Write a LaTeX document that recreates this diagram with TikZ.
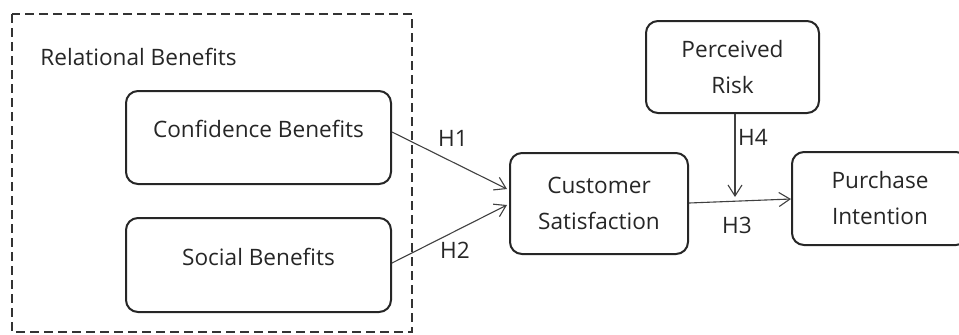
\documentclass[tikz,border=0pt]{standalone}
\usepackage{fontspec}
\setmainfont{Open Sans}
\usetikzlibrary{arrows.meta,calc}
\begin{document}
\begin{tikzpicture}[x=0.5pt,y=-0.5pt,
  font=\fontsize{11.3}{18}\selectfont,
  box/.style={draw=black!85, line width=1pt, rounded corners=6pt, align=center, text=black!85},
  onebox/.style={box, text height=8pt, text depth=8pt},
  conn/.style={draw=black!75, line width=0.55pt, -{Straight Barb[length=5.5pt,width=7pt]}},
  hlab/.style={text=black!85, inner sep=0pt}]
\useasboundingbox (0,0) rectangle (959,334);
\draw[black!80, line width=1pt, dash pattern=on 4.5pt off 2.5pt] (12,14) rectangle (412,332);
\node[anchor=base west, text=black!85, inner sep=0pt] (rb) at (40,65) {Relational Benefits};
\node[onebox, minimum width=132.5pt, minimum height=46.5pt] (cb) at (258.5,137.5) {Confidence Benefits};
\node[onebox, minimum width=132.5pt, minimum height=47pt] (sb) at (258.5,265) {Social Benefits};
\node[box, minimum width=89pt, minimum height=50.5pt] (cs) at (599,203.5) {Customer\\Satisfaction};
\node[box, minimum width=86.5pt, minimum height=46pt] (pr) at (732.5,67) {Perceived\\Risk};
\node[box, minimum width=88pt, minimum height=46.5pt] (pi) at (880,198.5) {Purchase\\Intention};
\coordinate (h4end) at (735,197);
\draw[conn] ($(cb.east)+(0,-5.5)$) -- ($(cs.west)+(-2,-14.5)$);
\draw[conn] ($(sb.east)+(0,-2)$) -- ($(cs.west)+(-2,1.5)$);
\draw[conn] ($(cs.east)+(0,-0.5)$) -- ($(pi.west)+(0,0.5)$);
\draw[conn] ($(pr.south)+(2.5,0)$) -- (h4end);
\node[hlab] (h1) at (453,138) {H1};
\node[hlab] (h2) at (455,250) {H2};
\node[hlab] (h3) at (737,225) {H3};
\node[hlab] (h4) at (753,137) {H4};
\end{tikzpicture}
\end{document}
